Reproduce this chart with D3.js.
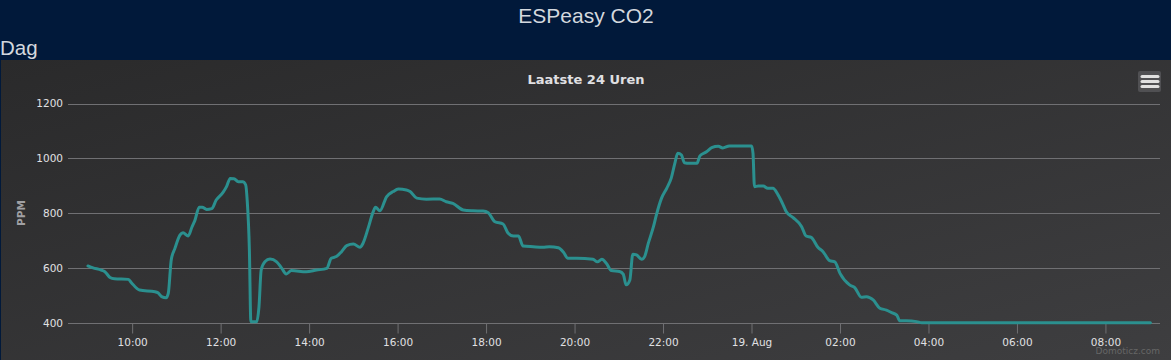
<!DOCTYPE html>
<html>
<head>
<meta charset="utf-8">
<script src="https://cdn.jsdelivr.net/npm/d3@7"></script>
<style>
  html, body { margin: 0; padding: 0; background: #01193a; width: 1171px; height: 360px; overflow: hidden; }
  svg { display: block; }
</style>
</head>
<body>
<svg id="chart" width="1171" height="360"></svg>
<script>
// ---- data ----
const pageTitle = "ESPeasy CO2";
const sectionTitle = "Dag";
const chartTitle = "Laatste 24 Uren";
const yAxisTitle = "PPM";
const credits = "Domoticz.com";
const yTicks = [400, 600, 800, 1000, 1200];
const xTickTimes = ["2017-08-18 10:00", "2017-08-18 12:00", "2017-08-18 14:00", "2017-08-18 16:00",
  "2017-08-18 18:00", "2017-08-18 20:00", "2017-08-18 22:00", "2017-08-19 00:00",
  "2017-08-19 02:00", "2017-08-19 04:00", "2017-08-19 06:00", "2017-08-19 08:00"];
const xTickLabels = ["10:00", "12:00", "14:00", "16:00", "18:00", "20:00", "22:00", "19. Aug",
  "02:00", "04:00", "06:00", "08:00"];
const xDomain = ["2017-08-18 08:33", "2017-08-19 09:14"];
const yDomain = [400, 1200];

const times = [
  "2017-08-18 09:00", "2017-08-18 09:07", "2017-08-18 09:18", "2017-08-18 09:23", "2017-08-18 09:30",
  "2017-08-18 09:36", "2017-08-18 09:55", "2017-08-18 09:59", "2017-08-18 10:10", "2017-08-18 10:31",
  "2017-08-18 10:35", "2017-08-18 10:40", "2017-08-18 10:46", "2017-08-18 10:49", "2017-08-18 10:53",
  "2017-08-18 10:58", "2017-08-18 11:05", "2017-08-18 11:09", "2017-08-18 11:16", "2017-08-18 11:21",
  "2017-08-18 11:25", "2017-08-18 11:31", "2017-08-18 11:35", "2017-08-18 11:41", "2017-08-18 11:48",
  "2017-08-18 11:54", "2017-08-18 12:03", "2017-08-18 12:08", "2017-08-18 12:13", "2017-08-18 12:18",
  "2017-08-18 12:24", "2017-08-18 12:30", "2017-08-18 12:34", "2017-08-18 12:36", "2017-08-18 12:39",
  "2017-08-18 12:41", "2017-08-18 12:49", "2017-08-18 12:52", "2017-08-18 12:55", "2017-08-18 13:00",
  "2017-08-18 13:07", "2017-08-18 13:16", "2017-08-18 13:23", "2017-08-18 13:29", "2017-08-18 13:36",
  "2017-08-18 13:56", "2017-08-18 14:10", "2017-08-18 14:24", "2017-08-18 14:30", "2017-08-18 14:37",
  "2017-08-18 14:44", "2017-08-18 14:51", "2017-08-18 15:00", "2017-08-18 15:09", "2017-08-18 15:13",
  "2017-08-18 15:20", "2017-08-18 15:27", "2017-08-18 15:30", "2017-08-18 15:36", "2017-08-18 15:45",
  "2017-08-18 15:54", "2017-08-18 16:01", "2017-08-18 16:12", "2017-08-18 16:17", "2017-08-18 16:26",
  "2017-08-18 16:39", "2017-08-18 16:57", "2017-08-18 17:06", "2017-08-18 17:15", "2017-08-18 17:29",
  "2017-08-18 17:42", "2017-08-18 17:56", "2017-08-18 18:03", "2017-08-18 18:12", "2017-08-18 18:23",
  "2017-08-18 18:30", "2017-08-18 18:37", "2017-08-18 18:44", "2017-08-18 18:50", "2017-08-18 19:04",
  "2017-08-18 19:17", "2017-08-18 19:26", "2017-08-18 19:38", "2017-08-18 19:45", "2017-08-18 19:51",
  "2017-08-18 20:03", "2017-08-18 20:25", "2017-08-18 20:31", "2017-08-18 20:37", "2017-08-18 20:43",
  "2017-08-18 20:50", "2017-08-18 21:01", "2017-08-18 21:06", "2017-08-18 21:10", "2017-08-18 21:15",
  "2017-08-18 21:19", "2017-08-18 21:24", "2017-08-18 21:31", "2017-08-18 21:35", "2017-08-18 21:40",
  "2017-08-18 21:47", "2017-08-18 21:51", "2017-08-18 21:58", "2017-08-18 22:05", "2017-08-18 22:11",
  "2017-08-18 22:16", "2017-08-18 22:20", "2017-08-18 22:25", "2017-08-18 22:29", "2017-08-18 22:36",
  "2017-08-18 22:46", "2017-08-18 22:50", "2017-08-18 22:59", "2017-08-18 23:06", "2017-08-18 23:15",
  "2017-08-18 23:21", "2017-08-18 23:30", "2017-08-18 23:44", "2017-08-19 00:00", "2017-08-19 00:02",
  "2017-08-19 00:04", "2017-08-19 00:09", "2017-08-19 00:16", "2017-08-19 00:22", "2017-08-19 00:29",
  "2017-08-19 00:36", "2017-08-19 00:43", "2017-08-19 00:47", "2017-08-19 00:56", "2017-08-19 01:08",
  "2017-08-19 01:14", "2017-08-19 01:21", "2017-08-19 01:30", "2017-08-19 01:37", "2017-08-19 01:46",
  "2017-08-19 01:53", "2017-08-19 02:00", "2017-08-19 02:13", "2017-08-19 02:20", "2017-08-19 02:29",
  "2017-08-19 02:36", "2017-08-19 02:45", "2017-08-19 02:54", "2017-08-19 03:03", "2017-08-19 03:10",
  "2017-08-19 03:17", "2017-08-19 03:21", "2017-08-19 03:30", "2017-08-19 03:44", "2017-08-19 03:51",
  "2017-08-19 05:00", "2017-08-19 07:00", "2017-08-19 09:01"
];
const co2 = [
  608, 601, 593, 587, 566,
  561, 559, 547, 520, 514,
  510, 496, 492, 508, 630,
  672, 721, 729, 717, 749,
  773, 822, 822, 814, 817,
  848, 875, 897, 927, 926,
  915, 915, 903, 848, 666,
  405, 405, 459, 593, 623,
  633, 623, 599, 579, 591,
  587, 593, 599, 636, 642,
  660, 682, 688, 676, 690,
  745, 806, 822, 809, 860,
  879, 888, 885, 879, 855,
  851, 852, 842, 836, 812,
  809, 808, 802, 769, 761,
  727, 717, 717, 681, 678,
  676, 678, 674, 658, 636,
  636, 632, 623, 632, 618,
  591, 588, 578, 539, 557,
  651, 648, 632, 642, 690,
  751, 794, 855, 891, 927,
  982, 1019, 1012, 984, 982,
  982, 1009, 1024, 1039, 1044,
  1038, 1045, 1045, 1045, 1019,
  897, 899, 899, 891, 891,
  867, 830, 806, 785, 751,
  717, 712, 676, 660, 627,
  623, 581, 539, 529, 494,
  496, 484, 454, 447, 438,
  429, 408, 408, 405, 401,
  401, 401, 401
];

// ---- drawing ----
const parse = d3.timeParse("%Y-%m-%d %H:%M");
const svg = d3.select("#chart");
const W = 1171, H = 360;

const defs = svg.append("defs");
const grad = defs.append("linearGradient").attr("id", "bg")
  .attr("x1", "0").attr("y1", "0").attr("x2", "1").attr("y2", "1");
grad.append("stop").attr("offset", "0%").attr("stop-color", "#2a2a2b");
grad.append("stop").attr("offset", "100%").attr("stop-color", "#3e3e40");

// page header
svg.append("rect").attr("x", 0).attr("y", 0).attr("width", W).attr("height", 60).attr("fill", "#01193a");
svg.append("text").attr("x", 586).attr("y", 23).attr("text-anchor", "middle")
  .attr("font-family", "Liberation Sans, Arial, sans-serif").attr("font-size", 21)
  .attr("fill", "#d4d8de").text(pageTitle);
svg.append("text").attr("x", 0).attr("y", 55)
  .attr("font-family", "Liberation Sans, Arial, sans-serif").attr("font-size", 20.5)
  .attr("fill", "#d4d8de").text(sectionTitle);

// chart container
const cx0 = 1, cy0 = 60;
svg.append("rect").attr("x", cx0).attr("y", cy0).attr("width", W - cx0).attr("height", H - cy0)
  .attr("fill", "url(#bg)");

const x = d3.scaleTime().domain(xDomain.map(parse)).range([68, 1160]);
const y = d3.scaleLinear().domain(yDomain).range([323, 103.5]);

const font = "DejaVu Sans, Verdana, sans-serif";

// grid lines
svg.append("g").selectAll("line").data(yTicks.filter(v => v !== 400)).join("line")
  .attr("x1", 68).attr("x2", 1160)
  .attr("y1", d => Math.round(y(d)) + 0.5).attr("y2", d => Math.round(y(d)) + 0.5)
  .attr("stroke", "#707073").attr("stroke-width", 1);

// y axis labels
const yAxis = d3.axisLeft(y).tickValues(yTicks).tickFormat(d3.format("d")).tickSize(0).tickPadding(5);
const gy = svg.append("g").attr("transform", "translate(68,0)").call(yAxis);
gy.select(".domain").remove();
gy.selectAll("text").attr("font-family", font).attr("font-size", 10.5).attr("fill", "#e0e0e3");

// x axis
const xTickDates = xTickTimes.map(parse);
const xAxis = d3.axisBottom(x).tickValues(xTickDates).tickSize(10).tickPadding(5)
  .tickFormat((d, i) => xTickLabels[i]);
const gx = svg.append("g").attr("transform", "translate(0,323.5)").call(xAxis);
gx.select(".domain").attr("stroke", "#707073").attr("d", "M68,0H1160");
gx.selectAll(".tick line").attr("stroke", "#707073");
gx.selectAll("text").attr("font-family", font).attr("font-size", 10.5).attr("fill", "#e0e0e3");

// y axis title
svg.append("text").attr("transform", "translate(25,213) rotate(-90)")
  .attr("text-anchor", "middle").attr("font-family", font).attr("font-size", 10.5)
  .attr("font-weight", "bold").attr("fill", "#a0a0a3").text(yAxisTitle);

// chart title
svg.append("text").attr("x", 586).attr("y", 84).attr("text-anchor", "middle")
  .attr("font-family", font).attr("font-size", 13).attr("font-weight", "bold")
  .attr("fill", "#e0e0e3").text(chartTitle);

// series
const data = times.map((t, i) => ({ t: parse(t), v: co2[i] }));
const line = d3.line().x(d => x(d.t)).y(d => y(d.v)).curve(d3.curveMonotoneX);
svg.append("path").datum(data).attr("d", line)
  .attr("fill", "none").attr("stroke", "#2b908f").attr("stroke-width", 3)
  .attr("stroke-linejoin", "round").attr("stroke-linecap", "round");

// menu button
const mb = svg.append("g");
mb.append("rect").attr("x", 1138).attr("y", 71).attr("width", 23).attr("height", 21).attr("rx", 2)
  .attr("fill", "#505053");
mb.selectAll("line").data([76.5, 81.5, 86.5]).join("line")
  .attr("x1", 1142).attr("x2", 1158).attr("y1", d => d).attr("y2", d => d)
  .attr("stroke", "#e0e0e0").attr("stroke-width", 3).attr("stroke-linecap", "round");

// credits
svg.append("text").attr("x", 1160).attr("y", 354).attr("text-anchor", "end")
  .attr("font-family", font).attr("font-size", 9).attr("fill", "#666").text(credits);
</script>
</body>
</html>
